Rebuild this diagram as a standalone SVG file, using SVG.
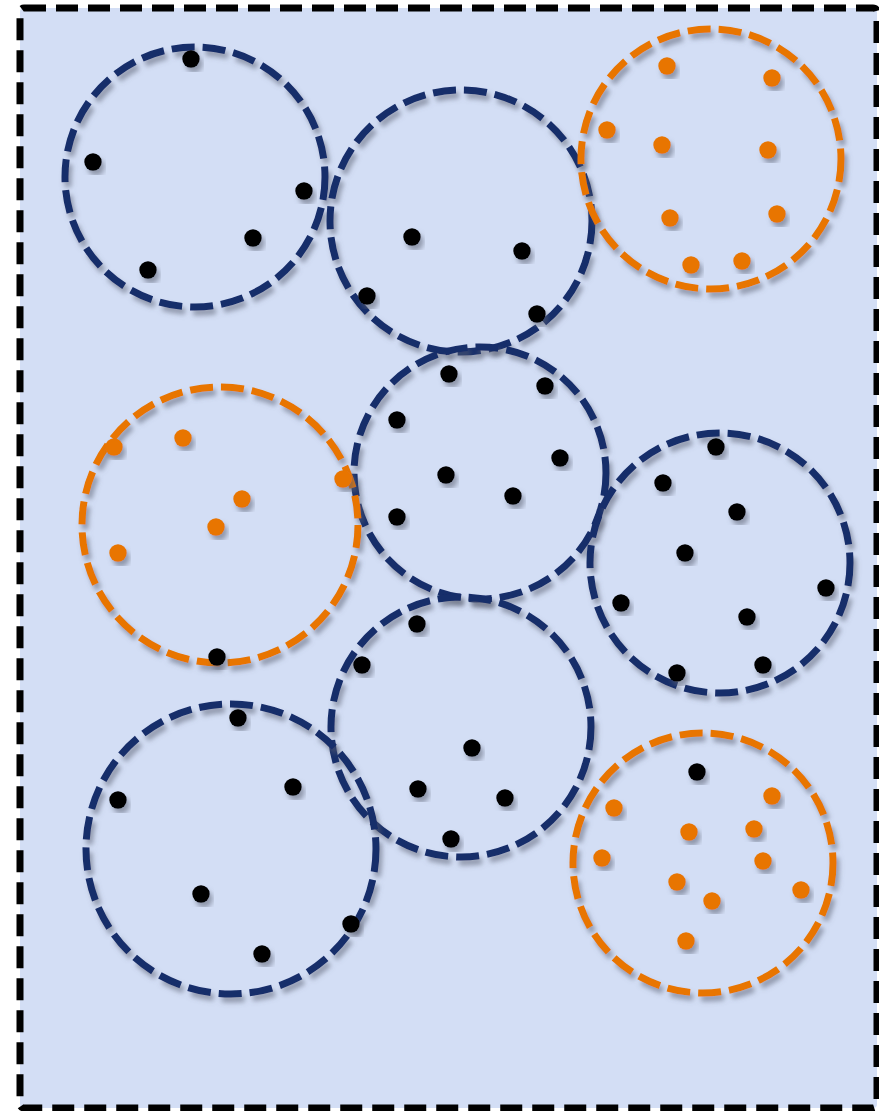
<svg xmlns="http://www.w3.org/2000/svg" width="879" height="1111" viewBox="0 0 879 1111">
<defs>
<filter id="sh" x="-20%" y="-20%" width="140%" height="140%">
<feDropShadow dx="3" dy="5" stdDeviation="2.8" flood-color="#5a6070" flood-opacity="0.55"/>
</filter>
<style>
.frame{fill:#D3DEF5;stroke:#000;stroke-width:7;stroke-dasharray:22 10}
.nv{fill:none;stroke:#172D6A;stroke-width:7;stroke-dasharray:23 8;filter:url(#sh)}
.or{fill:none;stroke:#E87500;stroke-width:7;stroke-dasharray:23 8;filter:url(#sh)}
.b{fill:#000;filter:url(#sh)}
.o{fill:#E87500;filter:url(#sh)}
</style>
</defs>
<rect id="frame" class="frame" x="20" y="8" width="857" height="1100" rx="4"/>
<g id="cluster1"><circle class="nv" cx="195" cy="177" r="130"/></g>
<g id="cluster2"><circle class="nv" cx="461" cy="221" r="131"/></g>
<g id="cluster5"><circle class="nv" cx="480" cy="473" r="126"/></g>
<g id="cluster6"><circle class="nv" cx="720" cy="563" r="130"/></g>
<g id="cluster7"><circle class="nv" cx="461" cy="727" r="130"/></g>
<g id="cluster8"><circle class="nv" cx="231" cy="849" r="145"/></g>
<g id="cluster3"><circle class="or" cx="711" cy="159" r="130"/></g>
<g id="cluster4"><circle class="or" cx="220" cy="525" r="138"/></g>
<g id="cluster9"><circle class="or" cx="703" cy="863" r="130"/></g>
<g id="points">
<g id="p1">
<circle class="b" cx="191" cy="59" r="8.7"/><circle class="b" cx="93" cy="162" r="8.7"/><circle class="b" cx="304" cy="191" r="8.7"/><circle class="b" cx="253" cy="238" r="8.7"/><circle class="b" cx="148" cy="270" r="8.7"/>
</g>
<g id="p2">
<circle class="b" cx="412" cy="237" r="8.7"/><circle class="b" cx="522" cy="251" r="8.7"/><circle class="b" cx="367" cy="296" r="8.7"/><circle class="b" cx="537" cy="314" r="8.7"/>
</g>
<g id="p3">
<circle class="o" cx="667" cy="66" r="8.7"/><circle class="o" cx="772" cy="78" r="8.7"/><circle class="o" cx="607" cy="130" r="8.7"/><circle class="o" cx="662" cy="145" r="8.7"/><circle class="o" cx="768" cy="150" r="8.7"/><circle class="o" cx="670" cy="218" r="8.7"/><circle class="o" cx="777" cy="214" r="8.7"/><circle class="o" cx="691" cy="265" r="8.7"/><circle class="o" cx="742" cy="261" r="8.7"/>
</g>
<g id="p4">
<circle class="o" cx="114" cy="447" r="8.7"/><circle class="o" cx="183" cy="438" r="8.7"/><circle class="o" cx="343" cy="479" r="8.7"/><circle class="o" cx="242" cy="499" r="8.7"/><circle class="o" cx="216" cy="527" r="8.7"/><circle class="o" cx="118" cy="553" r="8.7"/><circle class="b" cx="217" cy="657" r="8.7"/>
</g>
<g id="p5">
<circle class="b" cx="449" cy="374" r="8.7"/><circle class="b" cx="545" cy="386" r="8.7"/><circle class="b" cx="397" cy="420" r="8.7"/><circle class="b" cx="560" cy="458" r="8.7"/><circle class="b" cx="446" cy="475" r="8.7"/><circle class="b" cx="513" cy="496" r="8.7"/><circle class="b" cx="397" cy="517" r="8.7"/>
</g>
<g id="p6">
<circle class="b" cx="716" cy="447" r="8.7"/><circle class="b" cx="663" cy="483" r="8.7"/><circle class="b" cx="737" cy="512" r="8.7"/><circle class="b" cx="685" cy="553" r="8.7"/><circle class="b" cx="826" cy="588" r="8.7"/><circle class="b" cx="621" cy="603" r="8.7"/><circle class="b" cx="747" cy="617" r="8.7"/><circle class="b" cx="677" cy="673" r="8.7"/><circle class="b" cx="763" cy="665" r="8.7"/>
</g>
<g id="p7">
<circle class="b" cx="417" cy="624" r="8.7"/><circle class="b" cx="362" cy="665" r="8.7"/><circle class="b" cx="472" cy="748" r="8.7"/><circle class="b" cx="418" cy="789" r="8.7"/><circle class="b" cx="505" cy="798" r="8.7"/><circle class="b" cx="451" cy="839" r="8.7"/>
</g>
<g id="p8">
<circle class="b" cx="238" cy="718" r="8.7"/><circle class="b" cx="118" cy="800" r="8.7"/><circle class="b" cx="293" cy="787" r="8.7"/><circle class="b" cx="201" cy="894" r="8.7"/><circle class="b" cx="351" cy="924" r="8.7"/><circle class="b" cx="262" cy="954" r="8.7"/>
</g>
<g id="p9">
<circle class="b" cx="697" cy="772" r="8.7"/><circle class="o" cx="614" cy="808" r="8.7"/><circle class="o" cx="772" cy="796" r="8.7"/><circle class="o" cx="689" cy="832" r="8.7"/><circle class="o" cx="754" cy="829" r="8.7"/><circle class="o" cx="602" cy="858" r="8.7"/><circle class="o" cx="763" cy="861" r="8.7"/><circle class="o" cx="677" cy="882" r="8.7"/><circle class="o" cx="712" cy="901" r="8.7"/><circle class="o" cx="801" cy="890" r="8.7"/><circle class="o" cx="686" cy="941" r="8.7"/>
</g>
</g>
</svg>
